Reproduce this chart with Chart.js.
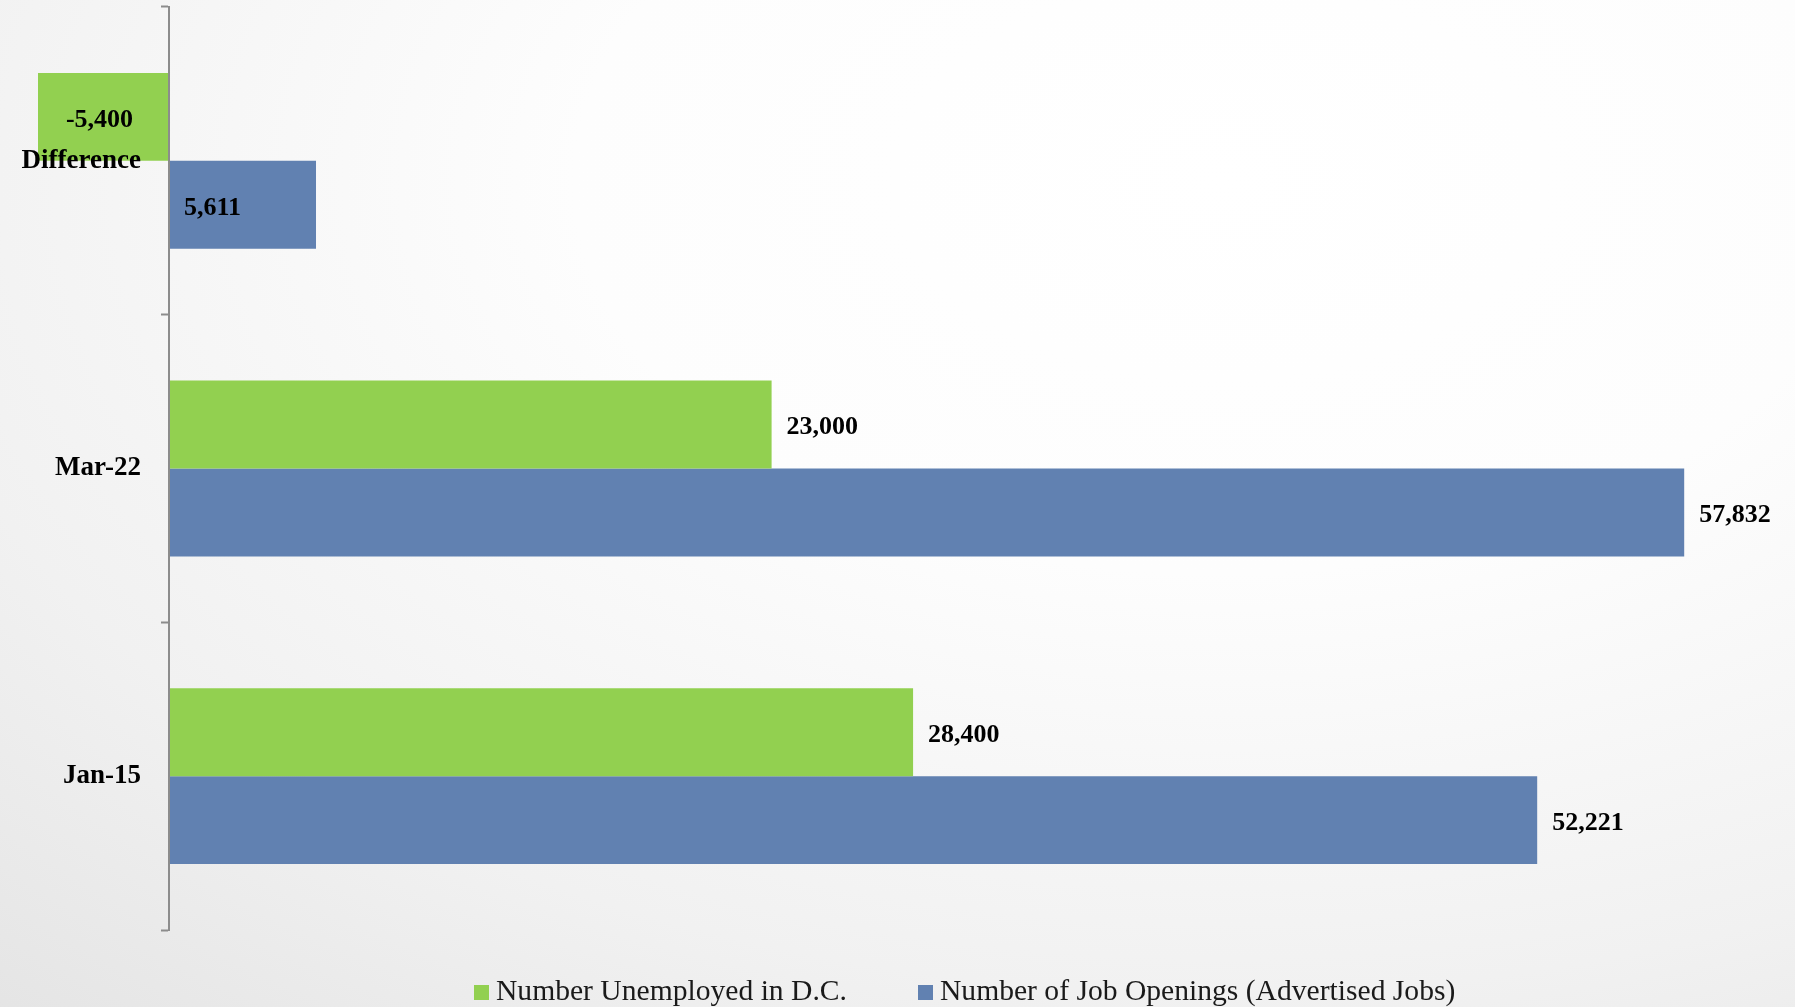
<!DOCTYPE html>
<html>
<head>
<meta charset="utf-8">
<script src="https://cdn.jsdelivr.net/npm/chart.js@4"></script>
<style>
  html, body { margin: 0; padding: 0; }
  body {
    width: 1795px; height: 1007px; overflow: hidden; position: relative;
    background: radial-gradient(ellipse 120% 130% at 68% 18%, #ffffff 0%, #fdfdfd 30%, #f1f1f1 62%, #e2e2e2 90%, #dcdcdc 100%);
  }
  #wrap { position: absolute; left: 0; top: 0; width: 1795px; height: 1007px; }
  #legend {
    position: absolute; top: 975px; left: 474px;
    display: flex; align-items: center;
    font-family: "Liberation Serif", serif; font-size: 29.6px; line-height: 30px; color: #1a1a1a;
  }
  .item { display: flex; align-items: center; }
  .sw { width: 15px; height: 15px; margin-right: 7px; margin-top: 4px; }
</style>
</head>
<body>
<div id="wrap"><canvas id="c" width="1795" height="1007"></canvas></div>
<div id="legend"></div>
<script>
const categories = ['Difference', 'Mar-22', 'Jan-15'];
const seriesNames = ['Number Unemployed in D.C.', 'Number of Job Openings (Advertised Jobs)'];
const unemployed = [-5400, 23000, 28400];
const jobOpenings = [5611, 57832, 52221];
const seriesColors = ['#92d050', '#6181b1'];

const fmt = v => v.toLocaleString('en-US');

const valueLabels = {
  id: 'valueLabels',
  afterDatasetsDraw(chart) {
    const ctx = chart.ctx;
    const xs = chart.scales.x;
    const zero = xs.getPixelForValue(0);
    const visibleLeft = xs.getPixelForValue(-5000);
    ctx.save();
    ctx.font = 'bold 26px "Liberation Serif", serif';
    ctx.fillStyle = '#000';
    ctx.textBaseline = 'middle';
    chart.data.datasets.forEach((ds, di) => {
      const meta = chart.getDatasetMeta(di);
      meta.data.forEach((bar, i) => {
        const v = ds.data[i];
        const txt = fmt(v);
        const y = bar.y + 3;
        if (v < 0) {
          const left = Math.max(visibleLeft, bar.x);
          ctx.textAlign = 'center';
          ctx.fillText(txt, (left + zero) / 2 - 4, y);
        } else if (categories[i] === 'Difference') {
          ctx.textAlign = 'left';
          ctx.fillText(txt, zero + 15, y);
        } else {
          ctx.textAlign = 'left';
          ctx.fillText(txt, bar.x + 15, y);
        }
      });
    });
    ctx.restore();
  }
};

new Chart(document.getElementById('c'), {
  type: 'bar',
  data: {
    labels: categories,
    datasets: [
      { label: seriesNames[0], data: unemployed, backgroundColor: seriesColors[0], borderWidth: 0, clip: { left: 131, top: 0, right: 0, bottom: 0 } },
      { label: seriesNames[1], data: jobOpenings, backgroundColor: seriesColors[1], borderWidth: 0, clip: { left: 131, top: 0, right: 0, bottom: 0 } }
    ]
  },
  options: {
    indexAxis: 'y',
    responsive: false,
    animation: false,
    devicePixelRatio: 1,
    categoryPercentage: 0.5714,
    barPercentage: 1,
    layout: { autoPadding: false, padding: { left: 0, right: 54, top: 7, bottom: 77 } },
    plugins: { legend: { display: false }, tooltip: { enabled: false } },
    scales: {
      x: { display: false, min: 0, max: 60000 },
      y: {
        position: 'left',
        afterFit: s => { s.width = 169; s.paddingTop = 0; s.paddingBottom = 0; },
        grid: { display: true, drawOnChartArea: false, drawTicks: true, tickLength: 8, tickColor: '#8c8c8c', tickWidth: 2, offset: true, z: 1 },
        border: { display: true, color: '#8c8c8c', width: 2, z: 1 },
        ticks: { z: 2, padding: 20, color: '#000', font: { family: '"Liberation Serif", serif', size: 27, weight: 'bold' } }
      }
    }
  },
  plugins: [valueLabels]
});

const lg = document.getElementById('legend');
seriesNames.forEach((n, i) => {
  const it = document.createElement('div');
  it.className = 'item';
  if (i > 0) it.style.marginLeft = '71px';
  const sw = document.createElement('span');
  sw.className = 'sw';
  sw.style.background = seriesColors[i];
  const t = document.createElement('span');
  t.textContent = n;
  it.appendChild(sw); it.appendChild(t);
  lg.appendChild(it);
});
</script>
</body>
</html>
